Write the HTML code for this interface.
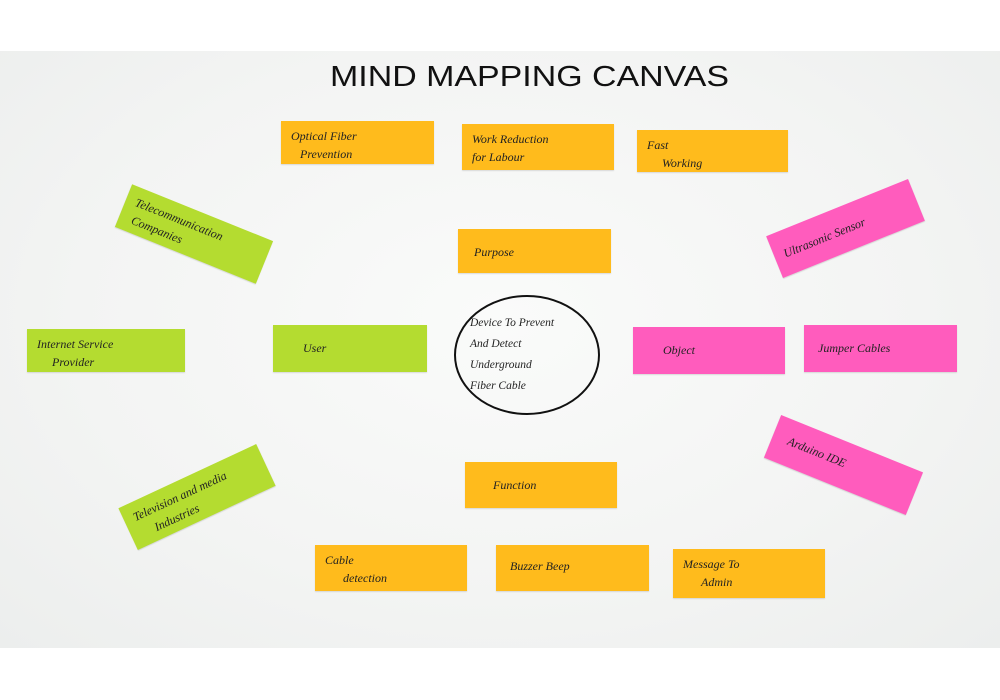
<!DOCTYPE html>
<html><head><meta charset="utf-8"><style>
html,body{margin:0;padding:0;width:1000px;height:700px;overflow:hidden;background:#fff;font-family:"Liberation Sans",sans-serif}
#paper{position:absolute;left:0;top:51px;width:1000px;height:597px;background:radial-gradient(ellipse at 50% 45%,#fafbfa 0%,#f3f4f3 60%,#eceeed 100%)}
.t{position:absolute;left:330px;top:61px;white-space:nowrap;font-size:29px;color:#111;transform:scaleX(1.17);transform-origin:0 0}
.n{position:absolute;box-sizing:border-box;font-family:"Liberation Serif",serif;font-style:italic;font-size:12px;color:#222;padding:6px 10px;line-height:18px;box-shadow:0 1px 1px rgba(0,0,0,.12)}
.o{background:#ffbb1c}
.g{background:#b4dc30}
.p{background:#ff5cbd}
</style></head><body>
<div id="paper"></div>
<div class="t">MIND MAPPING CANVAS</div>
<div class="n o" style="left:281px;top:121px;width:153px;height:43px">Optical Fiber<br>&nbsp;&nbsp;&nbsp;Prevention</div>
<div class="n o" style="left:462px;top:124px;width:152px;height:46px">Work Reduction<br>for Labour</div>
<div class="n o" style="left:637px;top:130px;width:151px;height:42px">Fast<br>&nbsp;&nbsp;&nbsp;&nbsp;&nbsp;Working</div>
<div class="n o" style="left:458px;top:229px;width:153px;height:44px;padding-top:14px">&nbsp;&nbsp;Purpose</div>
<div class="n g" style="left:118px;top:211px;width:152px;height:46px;transform:rotate(22deg)">Telecommunication<br>&nbsp;Companies</div>
<div class="n p" style="left:769px;top:206px;width:153px;height:45px;transform:rotate(-22deg);padding-top:14px">Ultrasonic Sensor</div>
<div class="n g" style="left:27px;top:329px;width:158px;height:43px">Internet Service<br>&nbsp;&nbsp;&nbsp;&nbsp;&nbsp;Provider</div>
<div class="n g" style="left:273px;top:325px;width:154px;height:47px;padding:14px 30px">User</div>
<svg style="position:absolute;left:0;top:0" width="1000" height="700"><ellipse cx="527" cy="355" rx="72" ry="59" fill="none" stroke="#111" stroke-width="2"/></svg>
<div class="n" style="left:470px;top:313px;width:120px;box-shadow:none;padding:0;line-height:21px;font-size:11.5px">Device To Prevent<br>And Detect<br>Underground<br>Fiber Cable</div>
<div class="n p" style="left:633px;top:327px;width:152px;height:47px;padding:14px 30px">Object</div>
<div class="n p" style="left:804px;top:325px;width:153px;height:47px;padding:14px 14px">Jumper Cables</div>
<div class="n p" style="left:767px;top:442px;width:153px;height:46px;transform:rotate(22deg);padding:12px 16px">Arduino IDE</div>
<div class="n g" style="left:121px;top:474px;width:152px;height:46px;transform:rotate(-25deg)">Television and media<br>&nbsp;&nbsp;&nbsp;&nbsp;&nbsp;Industries</div>
<div class="n o" style="left:465px;top:462px;width:152px;height:46px;padding:14px 28px">Function</div>
<div class="n o" style="left:315px;top:545px;width:152px;height:46px">Cable<br>&nbsp;&nbsp;&nbsp;&nbsp;&nbsp;&nbsp;detection</div>
<div class="n o" style="left:496px;top:545px;width:153px;height:46px;padding:12px 14px">Buzzer Beep</div>
<div class="n o" style="left:673px;top:549px;width:152px;height:49px">Message To<br>&nbsp;&nbsp;&nbsp;&nbsp;&nbsp;&nbsp;Admin</div>
</body></html>
